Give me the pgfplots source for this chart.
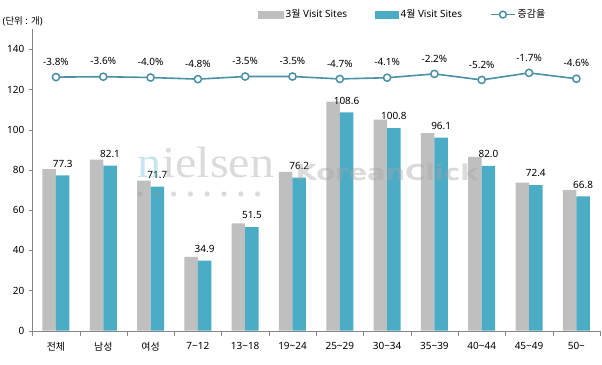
\documentclass[border=0pt]{standalone}
\usepackage{pgfplots}
\pgfplotsset{compat=1.18}
\usepackage{fontspec}
\setmainfont{Noto Sans}
\newfontfamily\kr{Noto Sans CJK KR}
\newfontfamily\wmserif{Liberation Serif}
\newfontfamily\wmsans{DejaVu Sans}
\definecolor{grayBar}{HTML}{BFBFBF}
\definecolor{blueBar}{HTML}{4BACC6}
\definecolor{lineC}{HTML}{4A90A6}
\definecolor{axisC}{HTML}{868686}
\begin{document}
\begin{tikzpicture}
\useasboundingbox (-32.3bp,-34.3bp) rectangle (569.7bp,330.7bp);
\begin{axis}[
  scale only axis, width=567.7bp, height=301.4bp,
  xmin=-0.5, xmax=11.5, ymin=0, ymax=150,
  axis x line*=bottom, axis y line*=left,
  axis line style={axisC, -},
  tick align=outside,
  ytick={0,20,...,140},
  xtick={0,...,11},
  xticklabels={{\kr 전체},{\kr 남성},{\kr 여성},7\textasciitilde12,13\textasciitilde18,19\textasciitilde24,25\textasciitilde29,30\textasciitilde34,35\textasciitilde39,40\textasciitilde44,45\textasciitilde49,50\textasciitilde},
  minor xtick={-0.5,0.5,...,11.5},
  major x tick style={draw=none},
  minor x tick style={axisC},
  y tick style={axisC},
  major tick length=3.5bp, minor tick length=5bp,
  xticklabel style={font=\fontsize{10}{12}\selectfont, yshift=-5bp},
  yticklabel style={font=\fontsize{10}{12}\selectfont, xshift=-1bp},
  /pgf/number format/assume math mode=true,
  ybar=0pt, bar width=13.5bp,
  point meta=explicit symbolic,
]
\addplot[fill=grayBar, draw=none] coordinates {
 (0,80.4) (1,85.2) (2,74.7) (3,36.7) (4,53.4) (5,79.0)
 (6,114.0) (7,105.1) (8,98.3) (9,86.5) (10,73.7) (11,70.0)};
\addplot[fill=blueBar, draw=none, nodes near coords,
  every node near coord/.append style={font=\fontsize{10}{12}\selectfont, anchor=south, inner sep=0pt, yshift=8bp, text=black}]
 coordinates {
 (0,77.3)[77.3] (1,82.1)[82.1] (2,71.7)[71.7] (3,34.9)[34.9] (4,51.5)[51.5] (5,76.2)[76.2]
 (6,108.6)[108.6] (7,100.8)[100.8] (8,96.1)[96.1] (9,82.0)[82.0] (10,72.4)[72.4] (11,66.8)[66.8]};
\end{axis}
% watermark (semi-transparent, over the bars)
\node[anchor=base west, inner sep=0pt, text=blueBar, opacity=0.3, xscale=1.1] at (104.7bp,152.7bp) {\fontsize{44}{44}\selectfont\wmserif n};
\node[anchor=base west, inner sep=0pt, text=black!35, opacity=0.4, xscale=1.1] at (129.5bp,152.7bp) {\fontsize{44}{44}\selectfont\wmserif ielsen};
\node[anchor=base west, inner sep=0pt, text=black!35, opacity=0.4, xscale=1.25] at (263bp,150bp) {\fontsize{22}{22}\selectfont\wmsans\bfseries KoreanClick};
\foreach \i in {0,...,7} {\fill[black!40, opacity=0.35] (107.7bp+\i*16.8bp,136.7bp) circle (2.6bp);}
\begin{axis}[
  scale only axis, width=567.7bp, height=301.4bp,
  xmin=-0.5, xmax=11.5, ymin=-130, ymax=20,
  hide axis,
  point meta=explicit symbolic,
  legend columns=3,
  legend style={draw=none, fill=none, at={(0.3976,1.0488)}, anchor=west, inner sep=0pt,
    font=\fontsize{10}{12}\selectfont,
    /tikz/every even column/.append style={column sep=26bp}},
  legend cell align=left,
]
\addlegendimage{legend image code/.code={\fill[grayBar] (0bp,-3.8bp) rectangle (25bp,3.8bp);}}
\addlegendentry{3{\kr 월} Visit Sites}
\addlegendimage{legend image code/.code={\fill[blueBar] (0bp,-3.8bp) rectangle (23bp,3.8bp);}}
\addlegendentry{4{\kr 월} Visit Sites}
\addplot[lineC, line width=1.6bp, mark=*, mark size=3.6bp,
  mark options={fill=white, draw=lineC, line width=1.5bp},
  legend image code/.code={\draw[lineC, line width=1.6bp] (0bp,0bp) -- (24bp,0bp); \draw[lineC, fill=white, line width=1.5bp] (12bp,0bp) circle (3.4bp);},
  nodes near coords,
  every node near coord/.append style={font=\fontsize{10}{12}\selectfont, anchor=south, inner sep=0pt, yshift=11bp, text=black}]
 coordinates {
 (0,-3.8)[-3.8\%] (1,-3.6)[-3.6\%] (2,-4.0)[-4.0\%] (3,-4.8)[-4.8\%] (4,-3.5)[-3.5\%] (5,-3.5)[-3.5\%]
 (6,-4.7)[-4.7\%] (7,-4.1)[-4.1\%] (8,-2.2)[-2.2\%] (9,-5.2)[-5.2\%] (10,-1.7)[-1.7\%] (11,-4.6)[-4.6\%]};
\addlegendentry{{\kr 증감율}}
\end{axis}
\node[anchor=west, inner sep=0pt, font=\fontsize{9.5}{11}\selectfont] at (-29.8bp,309.7bp) {({\kr 단위} : {\kr 개})};
\end{tikzpicture}
\end{document}
